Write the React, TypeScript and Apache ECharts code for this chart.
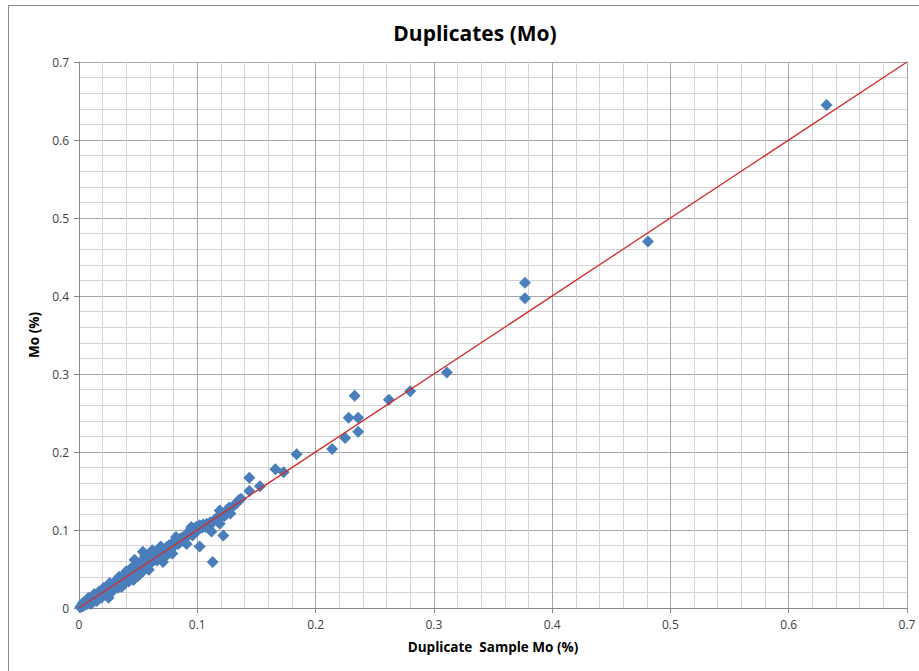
import React, { useEffect, useRef } from "react";
import * as echarts from "echarts";

const titleText = "Duplicates (Mo)";
const xAxisTitle = "Duplicate  Sample Mo (%)";
const yAxisTitle = "Mo (%)";

const axisMin = 0;
const axisMax = 0.7;
const axisStep = 0.1;

// [duplicate sample Mo %, original Mo %]
const lowPoints: [number, number][] = [
  [0.001, 0.001], [0.002, 0.003], [0.003, 0.002], [0.003, 0.006], [0.004, 0.005],
  [0.005, 0.004], [0.005, 0.008], [0.006, 0.007], [0.007, 0.005], [0.008, 0.009],
  [0.008, 0.013], [0.009, 0.008], [0.010, 0.012], [0.010, 0.005], [0.011, 0.009],
  [0.012, 0.013], [0.012, 0.008], [0.013, 0.011], [0.013, 0.018], [0.014, 0.016],
  [0.015, 0.013], [0.015, 0.009], [0.016, 0.017], [0.017, 0.015], [0.017, 0.021],
  [0.018, 0.020], [0.019, 0.017], [0.019, 0.013], [0.020, 0.022], [0.021, 0.019],
  [0.021, 0.026], [0.022, 0.024], [0.023, 0.021], [0.023, 0.017], [0.024, 0.026],
  [0.025, 0.022], [0.025, 0.013], [0.026, 0.028], [0.026, 0.032], [0.027, 0.024],
  [0.028, 0.030], [0.028, 0.021], [0.029, 0.026], [0.030, 0.032], [0.030, 0.031],
];

const midPoints: [number, number][] = [
  [0.031, 0.029], [0.031, 0.035], [0.032, 0.035], [0.033, 0.031], [0.033, 0.026],
  [0.034, 0.036], [0.034, 0.040], [0.035, 0.033], [0.036, 0.039], [0.036, 0.027],
  [0.037, 0.034], [0.038, 0.041], [0.038, 0.031], [0.039, 0.037], [0.040, 0.043],
  [0.040, 0.047], [0.041, 0.038], [0.042, 0.045], [0.042, 0.034], [0.043, 0.041],
  [0.044, 0.047], [0.044, 0.051], [0.045, 0.042], [0.046, 0.049], [0.046, 0.036],
  [0.047, 0.062], [0.048, 0.046], [0.048, 0.055], [0.049, 0.052], [0.050, 0.045],
  [0.050, 0.041], [0.051, 0.054], [0.052, 0.050], [0.052, 0.059], [0.053, 0.057],
  [0.054, 0.047], [0.054, 0.072], [0.055, 0.060], [0.056, 0.053], [0.056, 0.067],
  [0.057, 0.063], [0.058, 0.056], [0.059, 0.049], [0.059, 0.065], [0.060, 0.068],
  [0.061, 0.058], [0.062, 0.070], [0.062, 0.074], [0.063, 0.064], [0.064, 0.062],
  [0.065, 0.069], [0.066, 0.066], [0.066, 0.061], [0.067, 0.071], [0.068, 0.074],
  [0.069, 0.077], [0.069, 0.079], [0.070, 0.068], [0.071, 0.059], [0.072, 0.075],
  [0.073, 0.071], [0.073, 0.066], [0.074, 0.078], [0.075, 0.074], [0.076, 0.080],
  [0.077, 0.077], [0.077, 0.071], [0.078, 0.082], [0.079, 0.070], [0.080, 0.083],
  [0.081, 0.080], [0.082, 0.091], [0.083, 0.085], [0.084, 0.082], [0.085, 0.088],
  [0.086, 0.087], [0.087, 0.090], [0.088, 0.086], [0.089, 0.092], [0.091, 0.082],
  [0.091, 0.091], [0.092, 0.094], [0.094, 0.100], [0.094, 0.096], [0.095, 0.104],
  [0.096, 0.093], [0.097, 0.098], [0.098, 0.102], [0.099, 0.104], [0.100, 0.099],
];

const highPoints: [number, number][] = [
  [0.102, 0.079], [0.102, 0.106], [0.104, 0.103], [0.105, 0.107], [0.107, 0.104],
  [0.108, 0.108], [0.110, 0.105], [0.111, 0.110], [0.112, 0.098], [0.113, 0.059],
  [0.114, 0.112], [0.116, 0.115], [0.118, 0.114], [0.119, 0.125], [0.119, 0.108],
  [0.121, 0.120], [0.122, 0.093], [0.123, 0.118], [0.125, 0.125], [0.127, 0.129],
  [0.128, 0.121], [0.130, 0.130], [0.133, 0.134], [0.135, 0.138], [0.137, 0.140],
  [0.144, 0.167], [0.144, 0.150], [0.153, 0.156], [0.166, 0.178], [0.173, 0.174],
  [0.184, 0.197], [0.214, 0.204], [0.225, 0.218], [0.228, 0.244], [0.233, 0.272],
  [0.236, 0.244], [0.236, 0.226], [0.262, 0.267], [0.280, 0.278], [0.311, 0.302],
  [0.377, 0.417], [0.377, 0.397], [0.481, 0.470], [0.632, 0.645],
];

const lineX = [0, 0.7];

export default function App() {
  const ref = useRef<HTMLDivElement>(null);
  useEffect(() => {
    if (!ref.current) return;
    const chart = echarts.init(ref.current, undefined, { renderer: "svg" });
    const allPoints = [...lowPoints, ...midPoints, ...highPoints];
    const axisCommon = {
      type: "value" as const,
      min: axisMin,
      max: axisMax,
      interval: axisStep,
      axisLine: { show: true, lineStyle: { color: "#868686", width: 1 } },
      axisTick: { show: true, length: 5, inside: false, lineStyle: { color: "#868686" } },
      minorTick: { show: false, splitNumber: 5 },
      splitLine: { show: true, lineStyle: { color: "#a6a6a6", width: 1 } },
      minorSplitLine: { show: true, lineStyle: { color: "#d4d4d4", width: 1 } },
      axisLabel: {
        color: "#404040",
        fontSize: 12,
        fontFamily: "Open Sans",
      },
      nameLocation: "middle" as const,
      nameTextStyle: {
        color: "#000",
        fontWeight: "bold" as const,
        fontSize: 13.5,
        fontFamily: "Open Sans",
      },
    };
    chart.setOption({
      animation: false,
      backgroundColor: "#fff",
      title: {
        text: titleText,
        left: 470,
        top: 17,
        textAlign: "center",
        textStyle: {
          fontSize: 21,
          fontWeight: "bold",
          color: "#000",
          fontFamily: "Open Sans",
        },
      },
      graphic: [
        {
          type: "rect",
          shape: { x: 8.5, y: 5.5, width: 1000, height: 1000 },
          style: { fill: "none", stroke: "#868686", lineWidth: 1 },
          silent: true,
        },
      ],
      grid: { left: 79, right: 12, top: 62, bottom: 63, containLabel: false },
      xAxis: {
        ...axisCommon,
        name: xAxisTitle,
        nameGap: 32,
        axisLabel: { ...axisCommon.axisLabel, margin: 10 },
      },
      yAxis: {
        ...axisCommon,
        name: yAxisTitle,
        nameGap: 37,
        axisLabel: { ...axisCommon.axisLabel, margin: 10 },
      },
      series: [
        {
          type: "scatter",
          data: allPoints,
          symbol: "diamond",
          symbolSize: 12,
          itemStyle: { color: "#4A7EBB", opacity: 1 },
          z: 2,
        },
        {
          type: "line",
          data: lineX.map((v) => [v, v]),
          symbol: "none",
          lineStyle: { color: "#D42A2A", width: 1.3 },
          z: 3,
        },
      ],
    });
    return () => chart.dispose();
  }, []);
  return (
    <div
      ref={ref}
      style={{ position: "fixed", left: 0, top: 0, width: 919, height: 671 }}
    />
  );
}
